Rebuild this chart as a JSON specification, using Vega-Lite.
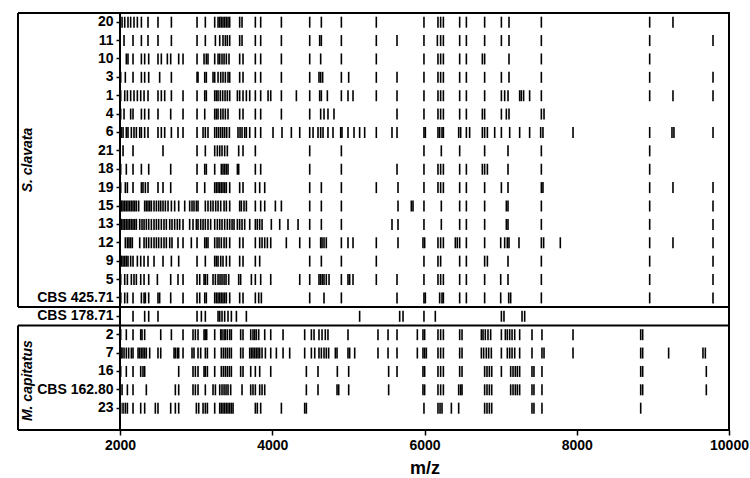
{
"$schema":"https://vega.github.io/schema/vega-lite/v6.json",
"width":609,"height":417,
"autosize":{"type":"none"},
"padding":{"left":120,"top":13,"right":21,"bottom":48},
"background":"white",
"config":{"view":{"stroke":"black","strokeWidth":2},"font":"Liberation Sans"},
"datasets":{"peaks":[
{"s":"20","mz":2027},{"s":"20","mz":2062},{"s":"20","mz":2105},{"s":"20","mz":2140},{"s":"20","mz":2184},{"s":"20","mz":2228},{"s":"20","mz":2281},{"s":"20","mz":2368},{"s":"20","mz":2499},{"s":"20","mz":2675},{"s":"20","mz":3012},{"s":"20","mz":3121},{"s":"20","mz":3244},{"s":"20","mz":3288},{"s":"20","mz":3310},{"s":"20","mz":3331},{"s":"20","mz":3353},{"s":"20","mz":3375},{"s":"20","mz":3397},{"s":"20","mz":3419},{"s":"20","mz":3441},{"s":"20","mz":3572},{"s":"20","mz":3603},{"s":"20","mz":3778},{"s":"20","mz":3848},{"s":"20","mz":4120},{"s":"20","mz":4492},{"s":"20","mz":4645},{"s":"20","mz":4908},{"s":"20","mz":5367},{"s":"20","mz":5993},{"s":"20","mz":6177},{"s":"20","mz":6212},{"s":"20","mz":6248},{"s":"20","mz":6462},{"s":"20","mz":6550},{"s":"20","mz":6790},{"s":"20","mz":7010},{"s":"20","mz":7110},{"s":"20","mz":7535},{"s":"20","mz":8958},{"s":"20","mz":9264},
{"s":"11","mz":2053},{"s":"11","mz":2171},{"s":"11","mz":2281},{"s":"11","mz":2368},{"s":"11","mz":2499},{"s":"11","mz":2675},{"s":"11","mz":3012},{"s":"11","mz":3121},{"s":"11","mz":3253},{"s":"11","mz":3310},{"s":"11","mz":3353},{"s":"11","mz":3384},{"s":"11","mz":3410},{"s":"11","mz":3441},{"s":"11","mz":3572},{"s":"11","mz":3603},{"s":"11","mz":3778},{"s":"11","mz":3848},{"s":"11","mz":4120},{"s":"11","mz":4492},{"s":"11","mz":4623},{"s":"11","mz":4645},{"s":"11","mz":4908},{"s":"11","mz":5367},{"s":"11","mz":5639},{"s":"11","mz":5993},{"s":"11","mz":6169},{"s":"11","mz":6212},{"s":"11","mz":6248},{"s":"11","mz":6462},{"s":"11","mz":6550},{"s":"11","mz":6790},{"s":"11","mz":7010},{"s":"11","mz":7110},{"s":"11","mz":7535},{"s":"11","mz":8958},{"s":"11","mz":9790},
{"s":"10","mz":2083},{"s":"10","mz":2105},{"s":"10","mz":2171},{"s":"10","mz":2281},{"s":"10","mz":2324},{"s":"10","mz":2377},{"s":"10","mz":2499},{"s":"10","mz":2543},{"s":"10","mz":2622},{"s":"10","mz":2666},{"s":"10","mz":2771},{"s":"10","mz":2828},{"s":"10","mz":3012},{"s":"10","mz":3104},{"s":"10","mz":3134},{"s":"10","mz":3156},{"s":"10","mz":3244},{"s":"10","mz":3288},{"s":"10","mz":3310},{"s":"10","mz":3340},{"s":"10","mz":3367},{"s":"10","mz":3397},{"s":"10","mz":3432},{"s":"10","mz":3572},{"s":"10","mz":3616},{"s":"10","mz":3778},{"s":"10","mz":3848},{"s":"10","mz":4120},{"s":"10","mz":4492},{"s":"10","mz":4636},{"s":"10","mz":4908},{"s":"10","mz":5367},{"s":"10","mz":5993},{"s":"10","mz":6177},{"s":"10","mz":6212},{"s":"10","mz":6248},{"s":"10","mz":6462},{"s":"10","mz":6550},{"s":"10","mz":6760},{"s":"10","mz":6790},{"s":"10","mz":7110},{"s":"10","mz":7535},{"s":"10","mz":8958},
{"s":"3","mz":2009},{"s":"3","mz":2070},{"s":"3","mz":2171},{"s":"3","mz":2281},{"s":"3","mz":2324},{"s":"3","mz":2377},{"s":"3","mz":2521},{"s":"3","mz":2675},{"s":"3","mz":3012},{"s":"3","mz":3025},{"s":"3","mz":3113},{"s":"3","mz":3134},{"s":"3","mz":3222},{"s":"3","mz":3244},{"s":"3","mz":3288},{"s":"3","mz":3323},{"s":"3","mz":3353},{"s":"3","mz":3384},{"s":"3","mz":3419},{"s":"3","mz":3441},{"s":"3","mz":3572},{"s":"3","mz":3616},{"s":"3","mz":3778},{"s":"3","mz":3848},{"s":"3","mz":4120},{"s":"3","mz":4492},{"s":"3","mz":4614},{"s":"3","mz":4636},{"s":"3","mz":4662},{"s":"3","mz":4908},{"s":"3","mz":5004},{"s":"3","mz":5367},{"s":"3","mz":5639},{"s":"3","mz":5993},{"s":"3","mz":6177},{"s":"3","mz":6212},{"s":"3","mz":6248},{"s":"3","mz":6462},{"s":"3","mz":6550},{"s":"3","mz":6790},{"s":"3","mz":7010},{"s":"3","mz":7110},{"s":"3","mz":7535},{"s":"3","mz":8958},{"s":"3","mz":9790},
{"s":"1","mz":2009},{"s":"1","mz":2062},{"s":"1","mz":2097},{"s":"1","mz":2140},{"s":"1","mz":2184},{"s":"1","mz":2228},{"s":"1","mz":2272},{"s":"1","mz":2316},{"s":"1","mz":2368},{"s":"1","mz":2499},{"s":"1","mz":2543},{"s":"1","mz":2587},{"s":"1","mz":2675},{"s":"1","mz":2828},{"s":"1","mz":3012},{"s":"1","mz":3113},{"s":"1","mz":3134},{"s":"1","mz":3244},{"s":"1","mz":3266},{"s":"1","mz":3288},{"s":"1","mz":3318},{"s":"1","mz":3349},{"s":"1","mz":3380},{"s":"1","mz":3410},{"s":"1","mz":3441},{"s":"1","mz":3542},{"s":"1","mz":3572},{"s":"1","mz":3616},{"s":"1","mz":3660},{"s":"1","mz":3704},{"s":"1","mz":3778},{"s":"1","mz":3848},{"s":"1","mz":3945},{"s":"1","mz":3980},{"s":"1","mz":4120},{"s":"1","mz":4317},{"s":"1","mz":4492},{"s":"1","mz":4623},{"s":"1","mz":4645},{"s":"1","mz":4724},{"s":"1","mz":4908},{"s":"1","mz":4995},{"s":"1","mz":5061},{"s":"1","mz":5367},{"s":"1","mz":5639},{"s":"1","mz":5993},{"s":"1","mz":6177},{"s":"1","mz":6212},{"s":"1","mz":6248},{"s":"1","mz":6462},{"s":"1","mz":6550},{"s":"1","mz":6790},{"s":"1","mz":7010},{"s":"1","mz":7053},{"s":"1","mz":7097},{"s":"1","mz":7250},{"s":"1","mz":7272},{"s":"1","mz":7302},{"s":"1","mz":7381},{"s":"1","mz":7535},{"s":"1","mz":8958},{"s":"1","mz":9264},{"s":"1","mz":9790},
{"s":"4","mz":2009},{"s":"4","mz":2053},{"s":"4","mz":2140},{"s":"4","mz":2171},{"s":"4","mz":2281},{"s":"4","mz":2324},{"s":"4","mz":2377},{"s":"4","mz":2499},{"s":"4","mz":2666},{"s":"4","mz":2828},{"s":"4","mz":3012},{"s":"4","mz":3113},{"s":"4","mz":3244},{"s":"4","mz":3266},{"s":"4","mz":3288},{"s":"4","mz":3323},{"s":"4","mz":3353},{"s":"4","mz":3384},{"s":"4","mz":3419},{"s":"4","mz":3572},{"s":"4","mz":3616},{"s":"4","mz":3778},{"s":"4","mz":3848},{"s":"4","mz":4120},{"s":"4","mz":4492},{"s":"4","mz":4636},{"s":"4","mz":4680},{"s":"4","mz":4732},{"s":"4","mz":4811},{"s":"4","mz":5639},{"s":"4","mz":5993},{"s":"4","mz":6177},{"s":"4","mz":6212},{"s":"4","mz":6248},{"s":"4","mz":6462},{"s":"4","mz":6550},{"s":"4","mz":6760},{"s":"4","mz":6790},{"s":"4","mz":7010},{"s":"4","mz":7075},{"s":"4","mz":7110},{"s":"4","mz":7535},{"s":"4","mz":7570},
{"s":"6","mz":2015},{"s":"6","mz":2040},{"s":"6","mz":2083},{"s":"6","mz":2105},{"s":"6","mz":2149},{"s":"6","mz":2184},{"s":"6","mz":2215},{"s":"6","mz":2259},{"s":"6","mz":2281},{"s":"6","mz":2324},{"s":"6","mz":2368},{"s":"6","mz":2499},{"s":"6","mz":2543},{"s":"6","mz":2587},{"s":"6","mz":2675},{"s":"6","mz":2762},{"s":"6","mz":2828},{"s":"6","mz":3012},{"s":"6","mz":3091},{"s":"6","mz":3121},{"s":"6","mz":3156},{"s":"6","mz":3244},{"s":"6","mz":3270},{"s":"6","mz":3296},{"s":"6","mz":3323},{"s":"6","mz":3349},{"s":"6","mz":3375},{"s":"6","mz":3402},{"s":"6","mz":3437},{"s":"6","mz":3550},{"s":"6","mz":3577},{"s":"6","mz":3603},{"s":"6","mz":3638},{"s":"6","mz":3660},{"s":"6","mz":3704},{"s":"6","mz":3778},{"s":"6","mz":3848},{"s":"6","mz":4010},{"s":"6","mz":4128},{"s":"6","mz":4251},{"s":"6","mz":4361},{"s":"6","mz":4492},{"s":"6","mz":4536},{"s":"6","mz":4601},{"s":"6","mz":4636},{"s":"6","mz":4667},{"s":"6","mz":4732},{"s":"6","mz":4798},{"s":"6","mz":4899},{"s":"6","mz":4916},{"s":"6","mz":4995},{"s":"6","mz":5074},{"s":"6","mz":5148},{"s":"6","mz":5214},{"s":"6","mz":5367},{"s":"6","mz":5573},{"s":"6","mz":5639},{"s":"6","mz":5993},{"s":"6","mz":6011},{"s":"6","mz":6177},{"s":"6","mz":6199},{"s":"6","mz":6230},{"s":"6","mz":6248},{"s":"6","mz":6449},{"s":"6","mz":6475},{"s":"6","mz":6550},{"s":"6","mz":6593},{"s":"6","mz":6760},{"s":"6","mz":6790},{"s":"6","mz":6826},{"s":"6","mz":6922},{"s":"6","mz":7010},{"s":"6","mz":7119},{"s":"6","mz":7250},{"s":"6","mz":7381},{"s":"6","mz":7526},{"s":"6","mz":7556},{"s":"6","mz":7951},{"s":"6","mz":8958},{"s":"6","mz":9251},{"s":"6","mz":9277},{"s":"6","mz":9790},
{"s":"21","mz":2040},{"s":"21","mz":2171},{"s":"21","mz":2565},{"s":"21","mz":3012},{"s":"21","mz":3121},{"s":"21","mz":3244},{"s":"21","mz":3279},{"s":"21","mz":3310},{"s":"21","mz":3340},{"s":"21","mz":3375},{"s":"21","mz":3410},{"s":"21","mz":3559},{"s":"21","mz":3616},{"s":"21","mz":3778},{"s":"21","mz":4492},{"s":"21","mz":4908},{"s":"21","mz":5993},{"s":"21","mz":6221},{"s":"21","mz":6462},{"s":"21","mz":6790},{"s":"21","mz":7097},{"s":"21","mz":7535},{"s":"21","mz":8958},
{"s":"18","mz":2009},{"s":"18","mz":2083},{"s":"18","mz":2171},{"s":"18","mz":2281},{"s":"18","mz":2377},{"s":"18","mz":2666},{"s":"18","mz":3012},{"s":"18","mz":3113},{"s":"18","mz":3134},{"s":"18","mz":3244},{"s":"18","mz":3331},{"s":"18","mz":3353},{"s":"18","mz":3375},{"s":"18","mz":3397},{"s":"18","mz":3419},{"s":"18","mz":3542},{"s":"18","mz":3559},{"s":"18","mz":3778},{"s":"18","mz":3848},{"s":"18","mz":4492},{"s":"18","mz":4908},{"s":"18","mz":5639},{"s":"18","mz":5993},{"s":"18","mz":6177},{"s":"18","mz":6212},{"s":"18","mz":6248},{"s":"18","mz":6462},{"s":"18","mz":6550},{"s":"18","mz":6760},{"s":"18","mz":6790},{"s":"18","mz":6826},{"s":"18","mz":7097},{"s":"18","mz":7535},{"s":"18","mz":8958},
{"s":"19","mz":2009},{"s":"19","mz":2070},{"s":"19","mz":2097},{"s":"19","mz":2171},{"s":"19","mz":2281},{"s":"19","mz":2302},{"s":"19","mz":2333},{"s":"19","mz":2368},{"s":"19","mz":2499},{"s":"19","mz":2565},{"s":"19","mz":2666},{"s":"19","mz":3012},{"s":"19","mz":3113},{"s":"19","mz":3244},{"s":"19","mz":3266},{"s":"19","mz":3288},{"s":"19","mz":3310},{"s":"19","mz":3331},{"s":"19","mz":3353},{"s":"19","mz":3375},{"s":"19","mz":3397},{"s":"19","mz":3441},{"s":"19","mz":3572},{"s":"19","mz":3616},{"s":"19","mz":3778},{"s":"19","mz":3835},{"s":"19","mz":3901},{"s":"19","mz":4492},{"s":"19","mz":4645},{"s":"19","mz":4908},{"s":"19","mz":5367},{"s":"19","mz":5652},{"s":"19","mz":5993},{"s":"19","mz":6177},{"s":"19","mz":6212},{"s":"19","mz":6248},{"s":"19","mz":6462},{"s":"19","mz":6550},{"s":"19","mz":6790},{"s":"19","mz":7010},{"s":"19","mz":7097},{"s":"19","mz":7535},{"s":"19","mz":7556},{"s":"19","mz":8958},{"s":"19","mz":9264},{"s":"19","mz":9790},
{"s":"15","mz":2010},{"s":"15","mz":2020},{"s":"15","mz":2040},{"s":"15","mz":2062},{"s":"15","mz":2083},{"s":"15","mz":2105},{"s":"15","mz":2127},{"s":"15","mz":2149},{"s":"15","mz":2171},{"s":"15","mz":2193},{"s":"15","mz":2215},{"s":"15","mz":2245},{"s":"15","mz":2324},{"s":"15","mz":2346},{"s":"15","mz":2368},{"s":"15","mz":2390},{"s":"15","mz":2412},{"s":"15","mz":2447},{"s":"15","mz":2478},{"s":"15","mz":2508},{"s":"15","mz":2535},{"s":"15","mz":2565},{"s":"15","mz":2596},{"s":"15","mz":2631},{"s":"15","mz":2675},{"s":"15","mz":2718},{"s":"15","mz":2771},{"s":"15","mz":2850},{"s":"15","mz":2915},{"s":"15","mz":2946},{"s":"15","mz":2972},{"s":"15","mz":3003},{"s":"15","mz":3025},{"s":"15","mz":3121},{"s":"15","mz":3156},{"s":"15","mz":3191},{"s":"15","mz":3222},{"s":"15","mz":3257},{"s":"15","mz":3288},{"s":"15","mz":3323},{"s":"15","mz":3367},{"s":"15","mz":3397},{"s":"15","mz":3441},{"s":"15","mz":3572},{"s":"15","mz":3594},{"s":"15","mz":3629},{"s":"15","mz":3660},{"s":"15","mz":3778},{"s":"15","mz":3848},{"s":"15","mz":3901},{"s":"15","mz":4041},{"s":"15","mz":4120},{"s":"15","mz":4492},{"s":"15","mz":4645},{"s":"15","mz":4908},{"s":"15","mz":5652},{"s":"15","mz":5827},{"s":"15","mz":5849},{"s":"15","mz":5993},{"s":"15","mz":6221},{"s":"15","mz":6462},{"s":"15","mz":6550},{"s":"15","mz":6790},{"s":"15","mz":7075},{"s":"15","mz":7097},{"s":"15","mz":7535},{"s":"15","mz":8958},{"s":"15","mz":9790},
{"s":"13","mz":2010},{"s":"13","mz":2020},{"s":"13","mz":2040},{"s":"13","mz":2062},{"s":"13","mz":2083},{"s":"13","mz":2105},{"s":"13","mz":2127},{"s":"13","mz":2149},{"s":"13","mz":2171},{"s":"13","mz":2193},{"s":"13","mz":2215},{"s":"13","mz":2259},{"s":"13","mz":2289},{"s":"13","mz":2316},{"s":"13","mz":2346},{"s":"13","mz":2377},{"s":"13","mz":2412},{"s":"13","mz":2447},{"s":"13","mz":2478},{"s":"13","mz":2508},{"s":"13","mz":2543},{"s":"13","mz":2578},{"s":"13","mz":2609},{"s":"13","mz":2653},{"s":"13","mz":2683},{"s":"13","mz":2718},{"s":"13","mz":2753},{"s":"13","mz":2784},{"s":"13","mz":2828},{"s":"13","mz":2915},{"s":"13","mz":2959},{"s":"13","mz":3003},{"s":"13","mz":3025},{"s":"13","mz":3060},{"s":"13","mz":3091},{"s":"13","mz":3121},{"s":"13","mz":3156},{"s":"13","mz":3191},{"s":"13","mz":3244},{"s":"13","mz":3279},{"s":"13","mz":3310},{"s":"13","mz":3340},{"s":"13","mz":3375},{"s":"13","mz":3410},{"s":"13","mz":3441},{"s":"13","mz":3472},{"s":"13","mz":3498},{"s":"13","mz":3542},{"s":"13","mz":3572},{"s":"13","mz":3603},{"s":"13","mz":3638},{"s":"13","mz":3704},{"s":"13","mz":3778},{"s":"13","mz":3804},{"s":"13","mz":3835},{"s":"13","mz":3866},{"s":"13","mz":3988},{"s":"13","mz":4098},{"s":"13","mz":4207},{"s":"13","mz":4339},{"s":"13","mz":4492},{"s":"13","mz":4645},{"s":"13","mz":4908},{"s":"13","mz":5573},{"s":"13","mz":5652},{"s":"13","mz":5993},{"s":"13","mz":6221},{"s":"13","mz":6462},{"s":"13","mz":6550},{"s":"13","mz":6790},{"s":"13","mz":7075},{"s":"13","mz":7097},{"s":"13","mz":7535},{"s":"13","mz":8958},{"s":"13","mz":9790},
{"s":"12","mz":2070},{"s":"12","mz":2097},{"s":"12","mz":2118},{"s":"12","mz":2140},{"s":"12","mz":2162},{"s":"12","mz":2259},{"s":"12","mz":2316},{"s":"12","mz":2346},{"s":"12","mz":2377},{"s":"12","mz":2412},{"s":"12","mz":2447},{"s":"12","mz":2478},{"s":"12","mz":2508},{"s":"12","mz":2543},{"s":"12","mz":2578},{"s":"12","mz":2609},{"s":"12","mz":2653},{"s":"12","mz":2683},{"s":"12","mz":2762},{"s":"12","mz":2828},{"s":"12","mz":2937},{"s":"12","mz":3012},{"s":"12","mz":3113},{"s":"12","mz":3134},{"s":"12","mz":3156},{"s":"12","mz":3244},{"s":"12","mz":3275},{"s":"12","mz":3301},{"s":"12","mz":3331},{"s":"12","mz":3367},{"s":"12","mz":3397},{"s":"12","mz":3441},{"s":"12","mz":3572},{"s":"12","mz":3616},{"s":"12","mz":3778},{"s":"12","mz":3835},{"s":"12","mz":3866},{"s":"12","mz":3901},{"s":"12","mz":3936},{"s":"12","mz":3980},{"s":"12","mz":4185},{"s":"12","mz":4361},{"s":"12","mz":4492},{"s":"12","mz":4636},{"s":"12","mz":4654},{"s":"12","mz":4680},{"s":"12","mz":4710},{"s":"12","mz":4908},{"s":"12","mz":4995},{"s":"12","mz":5061},{"s":"12","mz":5367},{"s":"12","mz":5652},{"s":"12","mz":5980},{"s":"12","mz":6002},{"s":"12","mz":6177},{"s":"12","mz":6212},{"s":"12","mz":6248},{"s":"12","mz":6405},{"s":"12","mz":6431},{"s":"12","mz":6462},{"s":"12","mz":6550},{"s":"12","mz":6790},{"s":"12","mz":7001},{"s":"12","mz":7053},{"s":"12","mz":7088},{"s":"12","mz":7110},{"s":"12","mz":7241},{"s":"12","mz":7535},{"s":"12","mz":7565},{"s":"12","mz":7784},{"s":"12","mz":8958},{"s":"12","mz":9264},{"s":"12","mz":9790},
{"s":"9","mz":2010},{"s":"9","mz":2018},{"s":"9","mz":2040},{"s":"9","mz":2062},{"s":"9","mz":2083},{"s":"9","mz":2105},{"s":"9","mz":2140},{"s":"9","mz":2171},{"s":"9","mz":2228},{"s":"9","mz":2272},{"s":"9","mz":2316},{"s":"9","mz":2368},{"s":"9","mz":2447},{"s":"9","mz":2565},{"s":"9","mz":2675},{"s":"9","mz":2771},{"s":"9","mz":3012},{"s":"9","mz":3121},{"s":"9","mz":3244},{"s":"9","mz":3266},{"s":"9","mz":3288},{"s":"9","mz":3323},{"s":"9","mz":3353},{"s":"9","mz":3397},{"s":"9","mz":3441},{"s":"9","mz":3572},{"s":"9","mz":3616},{"s":"9","mz":3778},{"s":"9","mz":3835},{"s":"9","mz":4492},{"s":"9","mz":4645},{"s":"9","mz":4908},{"s":"9","mz":5367},{"s":"9","mz":5993},{"s":"9","mz":6177},{"s":"9","mz":6212},{"s":"9","mz":6462},{"s":"9","mz":6550},{"s":"9","mz":6790},{"s":"9","mz":6826},{"s":"9","mz":7097},{"s":"9","mz":7535},{"s":"9","mz":8958},{"s":"9","mz":9790},
{"s":"5","mz":2009},{"s":"5","mz":2062},{"s":"5","mz":2097},{"s":"5","mz":2149},{"s":"5","mz":2184},{"s":"5","mz":2215},{"s":"5","mz":2272},{"s":"5","mz":2316},{"s":"5","mz":2377},{"s":"5","mz":2491},{"s":"5","mz":2666},{"s":"5","mz":2762},{"s":"5","mz":2828},{"s":"5","mz":3012},{"s":"5","mz":3047},{"s":"5","mz":3104},{"s":"5","mz":3121},{"s":"5","mz":3148},{"s":"5","mz":3222},{"s":"5","mz":3253},{"s":"5","mz":3288},{"s":"5","mz":3314},{"s":"5","mz":3340},{"s":"5","mz":3367},{"s":"5","mz":3393},{"s":"5","mz":3428},{"s":"5","mz":3559},{"s":"5","mz":3585},{"s":"5","mz":3726},{"s":"5","mz":3778},{"s":"5","mz":3848},{"s":"5","mz":3980},{"s":"5","mz":4361},{"s":"5","mz":4492},{"s":"5","mz":4614},{"s":"5","mz":4636},{"s":"5","mz":4658},{"s":"5","mz":4680},{"s":"5","mz":4710},{"s":"5","mz":4746},{"s":"5","mz":4908},{"s":"5","mz":4995},{"s":"5","mz":5017},{"s":"5","mz":5061},{"s":"5","mz":5367},{"s":"5","mz":5639},{"s":"5","mz":5993},{"s":"5","mz":6177},{"s":"5","mz":6212},{"s":"5","mz":6248},{"s":"5","mz":6462},{"s":"5","mz":6550},{"s":"5","mz":6790},{"s":"5","mz":7001},{"s":"5","mz":7097},{"s":"5","mz":7535},{"s":"5","mz":8958},{"s":"5","mz":9790},
{"s":"CBS 425.71","mz":2010},{"s":"CBS 425.71","mz":2062},{"s":"CBS 425.71","mz":2097},{"s":"CBS 425.71","mz":2171},{"s":"CBS 425.71","mz":2281},{"s":"CBS 425.71","mz":2316},{"s":"CBS 425.71","mz":2333},{"s":"CBS 425.71","mz":2377},{"s":"CBS 425.71","mz":2499},{"s":"CBS 425.71","mz":2521},{"s":"CBS 425.71","mz":2666},{"s":"CBS 425.71","mz":2828},{"s":"CBS 425.71","mz":3012},{"s":"CBS 425.71","mz":3047},{"s":"CBS 425.71","mz":3113},{"s":"CBS 425.71","mz":3134},{"s":"CBS 425.71","mz":3244},{"s":"CBS 425.71","mz":3266},{"s":"CBS 425.71","mz":3288},{"s":"CBS 425.71","mz":3310},{"s":"CBS 425.71","mz":3331},{"s":"CBS 425.71","mz":3353},{"s":"CBS 425.71","mz":3375},{"s":"CBS 425.71","mz":3397},{"s":"CBS 425.71","mz":3441},{"s":"CBS 425.71","mz":3572},{"s":"CBS 425.71","mz":3616},{"s":"CBS 425.71","mz":3778},{"s":"CBS 425.71","mz":3822},{"s":"CBS 425.71","mz":3857},{"s":"CBS 425.71","mz":4492},{"s":"CBS 425.71","mz":4680},{"s":"CBS 425.71","mz":4908},{"s":"CBS 425.71","mz":5639},{"s":"CBS 425.71","mz":5993},{"s":"CBS 425.71","mz":6011},{"s":"CBS 425.71","mz":6199},{"s":"CBS 425.71","mz":6230},{"s":"CBS 425.71","mz":6248},{"s":"CBS 425.71","mz":6462},{"s":"CBS 425.71","mz":6550},{"s":"CBS 425.71","mz":6790},{"s":"CBS 425.71","mz":7001},{"s":"CBS 425.71","mz":7106},{"s":"CBS 425.71","mz":7132},{"s":"CBS 425.71","mz":7535},{"s":"CBS 425.71","mz":8958},{"s":"CBS 425.71","mz":9790},
{"s":"CBS 178.71","mz":2171},{"s":"CBS 178.71","mz":2324},{"s":"CBS 178.71","mz":2377},{"s":"CBS 178.71","mz":2499},{"s":"CBS 178.71","mz":3012},{"s":"CBS 178.71","mz":3069},{"s":"CBS 178.71","mz":3121},{"s":"CBS 178.71","mz":3288},{"s":"CBS 178.71","mz":3310},{"s":"CBS 178.71","mz":3340},{"s":"CBS 178.71","mz":3375},{"s":"CBS 178.71","mz":3419},{"s":"CBS 178.71","mz":3463},{"s":"CBS 178.71","mz":3529},{"s":"CBS 178.71","mz":3660},{"s":"CBS 178.71","mz":5148},{"s":"CBS 178.71","mz":5674},{"s":"CBS 178.71","mz":5718},{"s":"CBS 178.71","mz":5993},{"s":"CBS 178.71","mz":6142},{"s":"CBS 178.71","mz":7010},{"s":"CBS 178.71","mz":7044},{"s":"CBS 178.71","mz":7281},{"s":"CBS 178.71","mz":7316},
{"s":"2","mz":2009},{"s":"2","mz":2083},{"s":"2","mz":2171},{"s":"2","mz":2272},{"s":"2","mz":2289},{"s":"2","mz":2324},{"s":"2","mz":2535},{"s":"2","mz":2675},{"s":"2","mz":2828},{"s":"2","mz":2959},{"s":"2","mz":2990},{"s":"2","mz":3025},{"s":"2","mz":3104},{"s":"2","mz":3121},{"s":"2","mz":3139},{"s":"2","mz":3244},{"s":"2","mz":3323},{"s":"2","mz":3340},{"s":"2","mz":3367},{"s":"2","mz":3384},{"s":"2","mz":3410},{"s":"2","mz":3441},{"s":"2","mz":3463},{"s":"2","mz":3585},{"s":"2","mz":3616},{"s":"2","mz":3717},{"s":"2","mz":3747},{"s":"2","mz":3769},{"s":"2","mz":3791},{"s":"2","mz":3822},{"s":"2","mz":3901},{"s":"2","mz":3980},{"s":"2","mz":4142},{"s":"2","mz":4426},{"s":"2","mz":4514},{"s":"2","mz":4549},{"s":"2","mz":4614},{"s":"2","mz":4654},{"s":"2","mz":4697},{"s":"2","mz":4732},{"s":"2","mz":4995},{"s":"2","mz":5389},{"s":"2","mz":5521},{"s":"2","mz":5639},{"s":"2","mz":5906},{"s":"2","mz":5980},{"s":"2","mz":6002},{"s":"2","mz":6177},{"s":"2","mz":6212},{"s":"2","mz":6248},{"s":"2","mz":6462},{"s":"2","mz":6493},{"s":"2","mz":6747},{"s":"2","mz":6769},{"s":"2","mz":6799},{"s":"2","mz":6834},{"s":"2","mz":6869},{"s":"2","mz":7010},{"s":"2","mz":7062},{"s":"2","mz":7088},{"s":"2","mz":7119},{"s":"2","mz":7150},{"s":"2","mz":7185},{"s":"2","mz":7250},{"s":"2","mz":7412},{"s":"2","mz":7543},{"s":"2","mz":7951},{"s":"2","mz":8840},{"s":"2","mz":8866},
{"s":"7","mz":2012},{"s":"7","mz":2027},{"s":"7","mz":2053},{"s":"7","mz":2083},{"s":"7","mz":2114},{"s":"7","mz":2149},{"s":"7","mz":2171},{"s":"7","mz":2237},{"s":"7","mz":2259},{"s":"7","mz":2281},{"s":"7","mz":2302},{"s":"7","mz":2324},{"s":"7","mz":2346},{"s":"7","mz":2390},{"s":"7","mz":2499},{"s":"7","mz":2535},{"s":"7","mz":2710},{"s":"7","mz":2727},{"s":"7","mz":2753},{"s":"7","mz":2771},{"s":"7","mz":2828},{"s":"7","mz":2946},{"s":"7","mz":2972},{"s":"7","mz":3025},{"s":"7","mz":3060},{"s":"7","mz":3121},{"s":"7","mz":3148},{"s":"7","mz":3244},{"s":"7","mz":3331},{"s":"7","mz":3358},{"s":"7","mz":3384},{"s":"7","mz":3410},{"s":"7","mz":3437},{"s":"7","mz":3463},{"s":"7","mz":3585},{"s":"7","mz":3616},{"s":"7","mz":3704},{"s":"7","mz":3726},{"s":"7","mz":3747},{"s":"7","mz":3769},{"s":"7","mz":3791},{"s":"7","mz":3813},{"s":"7","mz":3835},{"s":"7","mz":3866},{"s":"7","mz":3910},{"s":"7","mz":3980},{"s":"7","mz":4054},{"s":"7","mz":4142},{"s":"7","mz":4229},{"s":"7","mz":4426},{"s":"7","mz":4514},{"s":"7","mz":4558},{"s":"7","mz":4614},{"s":"7","mz":4645},{"s":"7","mz":4680},{"s":"7","mz":4710},{"s":"7","mz":4741},{"s":"7","mz":4829},{"s":"7","mz":4851},{"s":"7","mz":4995},{"s":"7","mz":5017},{"s":"7","mz":5083},{"s":"7","mz":5389},{"s":"7","mz":5521},{"s":"7","mz":5639},{"s":"7","mz":5906},{"s":"7","mz":5980},{"s":"7","mz":6002},{"s":"7","mz":6024},{"s":"7","mz":6177},{"s":"7","mz":6212},{"s":"7","mz":6248},{"s":"7","mz":6462},{"s":"7","mz":6493},{"s":"7","mz":6747},{"s":"7","mz":6777},{"s":"7","mz":6812},{"s":"7","mz":6843},{"s":"7","mz":6878},{"s":"7","mz":7010},{"s":"7","mz":7088},{"s":"7","mz":7119},{"s":"7","mz":7150},{"s":"7","mz":7185},{"s":"7","mz":7250},{"s":"7","mz":7412},{"s":"7","mz":7543},{"s":"7","mz":7570},{"s":"7","mz":7951},{"s":"7","mz":8840},{"s":"7","mz":8866},{"s":"7","mz":9207},{"s":"7","mz":9658},{"s":"7","mz":9689},
{"s":"16","mz":2009},{"s":"16","mz":2083},{"s":"16","mz":2171},{"s":"16","mz":2272},{"s":"16","mz":2302},{"s":"16","mz":2324},{"s":"16","mz":2771},{"s":"16","mz":2959},{"s":"16","mz":2990},{"s":"16","mz":3025},{"s":"16","mz":3104},{"s":"16","mz":3121},{"s":"16","mz":3148},{"s":"16","mz":3244},{"s":"16","mz":3331},{"s":"16","mz":3358},{"s":"16","mz":3384},{"s":"16","mz":3410},{"s":"16","mz":3437},{"s":"16","mz":3463},{"s":"16","mz":3585},{"s":"16","mz":3616},{"s":"16","mz":3717},{"s":"16","mz":3778},{"s":"16","mz":3835},{"s":"16","mz":3980},{"s":"16","mz":4448},{"s":"16","mz":4601},{"s":"16","mz":4855},{"s":"16","mz":5004},{"s":"16","mz":5529},{"s":"16","mz":5639},{"s":"16","mz":5980},{"s":"16","mz":6002},{"s":"16","mz":6177},{"s":"16","mz":6212},{"s":"16","mz":6248},{"s":"16","mz":6462},{"s":"16","mz":6493},{"s":"16","mz":6790},{"s":"16","mz":6821},{"s":"16","mz":6852},{"s":"16","mz":6883},{"s":"16","mz":7010},{"s":"16","mz":7132},{"s":"16","mz":7163},{"s":"16","mz":7193},{"s":"16","mz":7220},{"s":"16","mz":7250},{"s":"16","mz":7412},{"s":"16","mz":7438},{"s":"16","mz":7543},{"s":"16","mz":8840},{"s":"16","mz":8866},{"s":"16","mz":9702},
{"s":"CBS 162.80","mz":2027},{"s":"CBS 162.80","mz":2097},{"s":"CBS 162.80","mz":2171},{"s":"CBS 162.80","mz":2346},{"s":"CBS 162.80","mz":2727},{"s":"CBS 162.80","mz":2771},{"s":"CBS 162.80","mz":2959},{"s":"CBS 162.80","mz":2990},{"s":"CBS 162.80","mz":3025},{"s":"CBS 162.80","mz":3121},{"s":"CBS 162.80","mz":3222},{"s":"CBS 162.80","mz":3253},{"s":"CBS 162.80","mz":3310},{"s":"CBS 162.80","mz":3340},{"s":"CBS 162.80","mz":3367},{"s":"CBS 162.80","mz":3393},{"s":"CBS 162.80","mz":3419},{"s":"CBS 162.80","mz":3454},{"s":"CBS 162.80","mz":3603},{"s":"CBS 162.80","mz":3717},{"s":"CBS 162.80","mz":3747},{"s":"CBS 162.80","mz":3778},{"s":"CBS 162.80","mz":3835},{"s":"CBS 162.80","mz":3866},{"s":"CBS 162.80","mz":3901},{"s":"CBS 162.80","mz":4448},{"s":"CBS 162.80","mz":4601},{"s":"CBS 162.80","mz":4851},{"s":"CBS 162.80","mz":4873},{"s":"CBS 162.80","mz":5004},{"s":"CBS 162.80","mz":5529},{"s":"CBS 162.80","mz":5980},{"s":"CBS 162.80","mz":6002},{"s":"CBS 162.80","mz":6177},{"s":"CBS 162.80","mz":6212},{"s":"CBS 162.80","mz":6248},{"s":"CBS 162.80","mz":6449},{"s":"CBS 162.80","mz":6475},{"s":"CBS 162.80","mz":6493},{"s":"CBS 162.80","mz":6790},{"s":"CBS 162.80","mz":6821},{"s":"CBS 162.80","mz":6852},{"s":"CBS 162.80","mz":6883},{"s":"CBS 162.80","mz":7132},{"s":"CBS 162.80","mz":7163},{"s":"CBS 162.80","mz":7193},{"s":"CBS 162.80","mz":7220},{"s":"CBS 162.80","mz":7250},{"s":"CBS 162.80","mz":7412},{"s":"CBS 162.80","mz":7438},{"s":"CBS 162.80","mz":7543},{"s":"CBS 162.80","mz":8840},{"s":"CBS 162.80","mz":8866},{"s":"CBS 162.80","mz":9702},
{"s":"23","mz":2009},{"s":"23","mz":2040},{"s":"23","mz":2070},{"s":"23","mz":2097},{"s":"23","mz":2171},{"s":"23","mz":2272},{"s":"23","mz":2324},{"s":"23","mz":2464},{"s":"23","mz":2499},{"s":"23","mz":2666},{"s":"23","mz":2727},{"s":"23","mz":2771},{"s":"23","mz":3003},{"s":"23","mz":3034},{"s":"23","mz":3091},{"s":"23","mz":3121},{"s":"23","mz":3148},{"s":"23","mz":3244},{"s":"23","mz":3310},{"s":"23","mz":3331},{"s":"23","mz":3353},{"s":"23","mz":3375},{"s":"23","mz":3397},{"s":"23","mz":3419},{"s":"23","mz":3441},{"s":"23","mz":3463},{"s":"23","mz":3485},{"s":"23","mz":3778},{"s":"23","mz":3804},{"s":"23","mz":3848},{"s":"23","mz":4120},{"s":"23","mz":4426},{"s":"23","mz":4448},{"s":"23","mz":5993},{"s":"23","mz":6177},{"s":"23","mz":6204},{"s":"23","mz":6230},{"s":"23","mz":6353},{"s":"23","mz":6449},{"s":"23","mz":6790},{"s":"23","mz":6821},{"s":"23","mz":6852},{"s":"23","mz":6883},{"s":"23","mz":7412},{"s":"23","mz":7438},{"s":"23","mz":7543},{"s":"23","mz":8840}
]},
"layer":[
{"data":{"name":"peaks"},
 "mark":{"type":"tick","color":"black","thickness":1.6,"size":11,"opacity":1},
 "encoding":{
  "x":{"field":"mz","type":"quantitative","scale":{"domain":[2000,10000],"nice":false,"zero":false},
   "axis":{"title":"m/z","values":[2000,4000,6000,8000,10000],"format":"d","domain":false,"grid":false,"tickSize":5,"tickWidth":1.5,"tickColor":"black","labelFont":"Liberation Sans","labelFontSize":14,"labelFontWeight":"bold","labelColor":"black","labelPadding":3,"labelFlush":false,"labelOverlap":false,"titleFont":"Liberation Sans","titleFontSize":18,"titleFontWeight":"bold","titleColor":"black","titlePadding":7}},
  "y":{"field":"s","type":"nominal","scale":{"type":"band","domain":["20","11","10","3","1","4","6","21","18","19","15","13","12","9","5","CBS 425.71","CBS 178.71","2","7","16","CBS 162.80","23"],"paddingInner":0,"paddingOuter":0.343,"align":0},
   "axis":{"title":null,"domain":false,"grid":false,"tickSize":4,"tickWidth":1.5,"tickColor":"black","labelFont":"Liberation Sans","labelFontSize":14,"labelFontWeight":"bold","labelColor":"black","labelPadding":3}}
 }},
{"data":{"values":[{}]},"mark":{"type":"rule","color":"black","strokeWidth":2,"clip":false},
 "encoding":{"x":{"datum":660,"type":"quantitative"},"x2":{"datum":2000},"y":{"datum":"20","type":"nominal","bandPosition":0}}},
{"data":{"values":[{}]},"mark":{"type":"rule","color":"black","strokeWidth":2,"clip":false},
 "encoding":{"x":{"datum":660,"type":"quantitative"},"x2":{"datum":10000},"y":{"datum":"CBS 425.71","type":"nominal","bandPosition":1}}},
{"data":{"values":[{}]},"mark":{"type":"rule","color":"black","strokeWidth":2,"clip":false},
 "encoding":{"x":{"datum":660,"type":"quantitative"},"x2":{"datum":10000},"y":{"datum":"2","type":"nominal","bandPosition":0}}},
{"data":{"values":[{}]},"mark":{"type":"rule","color":"black","strokeWidth":2,"clip":false},
 "encoding":{"x":{"datum":660,"type":"quantitative"},"x2":{"datum":2000},"y":{"datum":"23","type":"nominal","bandPosition":1.687}}},
{"data":{"values":[{}]},"mark":{"type":"rule","color":"black","strokeWidth":2,"clip":false},
 "encoding":{"x":{"datum":660,"type":"quantitative"},"y":{"datum":"20","type":"nominal","bandPosition":0},"y2":{"datum":"CBS 425.71","bandPosition":1}}},
{"data":{"values":[{}]},"mark":{"type":"rule","color":"black","strokeWidth":2,"clip":false},
 "encoding":{"x":{"datum":660,"type":"quantitative"},"y":{"datum":"2","type":"nominal","bandPosition":0},"y2":{"datum":"23","bandPosition":1.687}}},
{"data":{"values":[{}]},"mark":{"type":"text","text":"S. clavata","angle":270,"font":"Liberation Sans","fontSize":14,"fontWeight":"bold","fontStyle":"italic","align":"center","baseline":"middle","color":"black","clip":false},
 "encoding":{"x":{"datum":792,"type":"quantitative"},"y":{"datum":"21","type":"nominal","bandPosition":1}}},
{"data":{"values":[{}]},"mark":{"type":"text","text":"M. capitatus","angle":270,"font":"Liberation Sans","fontSize":14,"fontWeight":"bold","fontStyle":"italic","align":"center","baseline":"middle","color":"black","clip":false},
 "encoding":{"x":{"datum":792,"type":"quantitative"},"y":{"datum":"16","type":"nominal","bandPosition":1}}}
]
}
